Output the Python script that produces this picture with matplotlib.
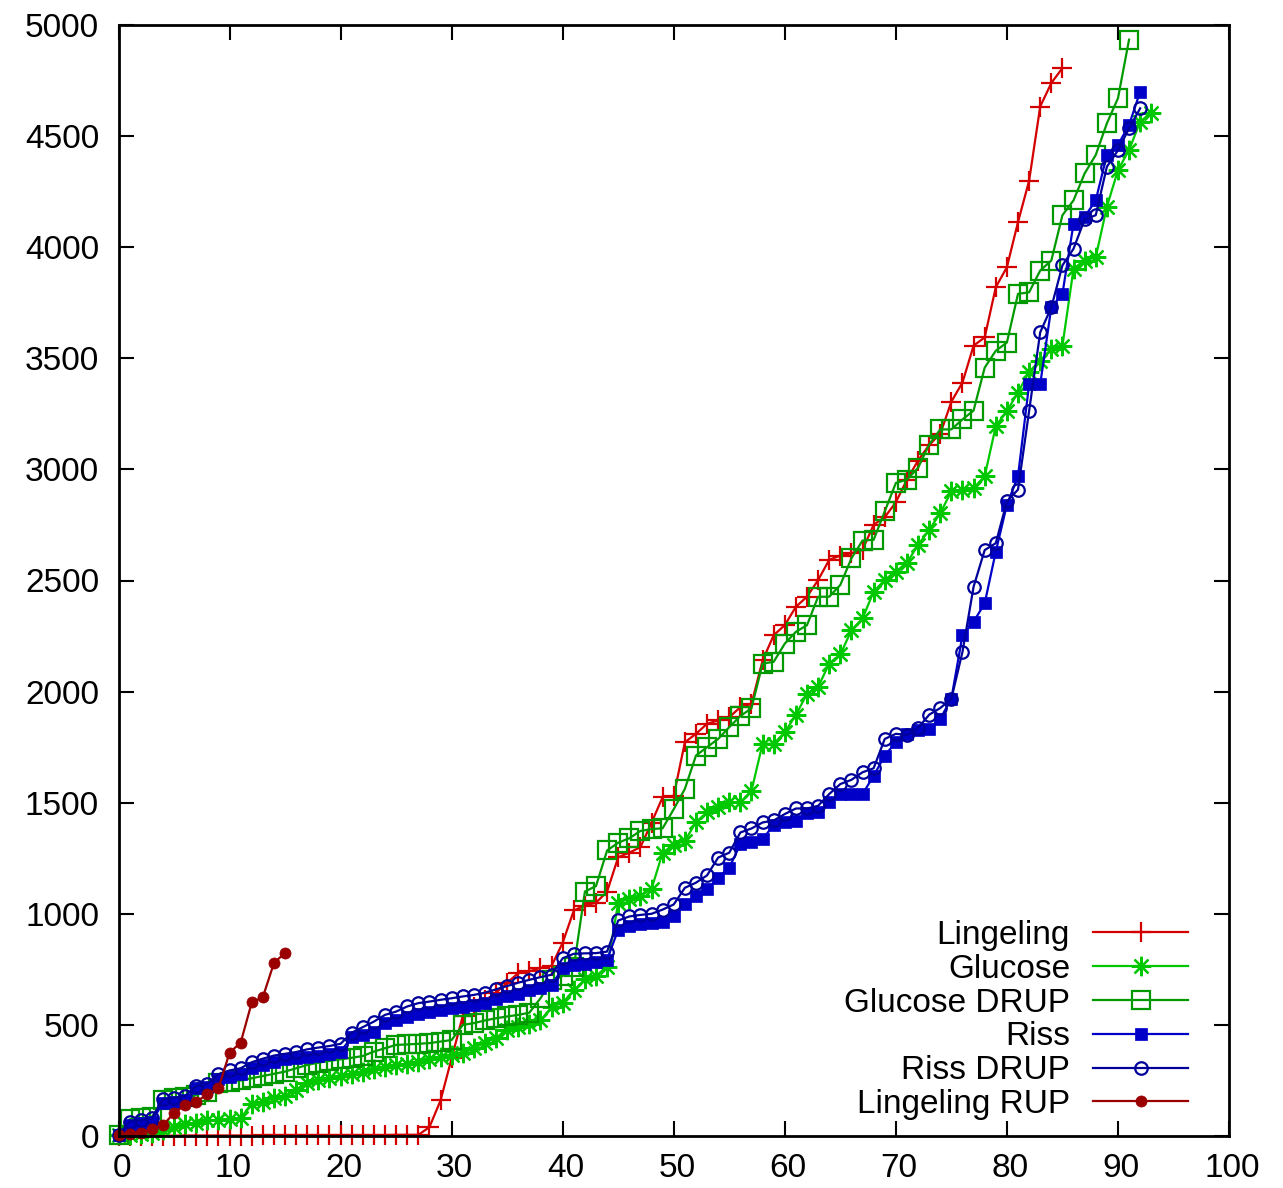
import matplotlib
matplotlib.use("Agg")
import matplotlib.pyplot as plt
from matplotlib.transforms import ScaledTranslation

# Cumulative solving time (s) per number of solved instances
lingeling = [0, 1, 1, 1, 1, 1, 2, 2, 2, 2, 2, 2, 2, 3, 3, 3, 3, 3, 3, 3,
             4, 4, 4, 4, 4, 5, 5, 5, 40, 160, 350, 540, 580, 610, 645, 690,
             733, 741, 757, 766, 870, 1015, 1037, 1050, 1100, 1255, 1275,
             1300, 1410, 1525, 1531, 1772, 1810, 1855, 1870, 1885, 1930,
             1945, 2140, 2254, 2299, 2382, 2427, 2502, 2593, 2612, 2623,
             2638, 2751, 2785, 2852, 2954, 3040, 3110, 3160, 3305, 3391,
             3557, 3594, 3820, 3910, 4113, 4299, 4633, 4739, 4806]

glucose = [3, 5, 10, 15, 25, 40, 55, 60, 70, 72, 75, 80, 146, 155, 169,
           180, 205, 238, 250, 260, 268, 280, 290, 300, 310, 318, 325, 335,
           345, 355, 365, 372, 395, 420, 440, 475, 490, 505, 520, 580, 600,
           655, 705, 720, 760, 1050, 1068, 1080, 1112, 1275, 1310, 1328,
           1412, 1456, 1479, 1501, 1501, 1554, 1765, 1765, 1817, 1895,
           1990, 2021, 2126, 2167, 2276, 2329, 2450, 2502, 2540, 2580, 2660,
           2728, 2803, 2902, 2909, 2916, 2969, 3195, 3263, 3346, 3440, 3489,
           3541, 3556, 3903, 3940, 3955, 4181, 4347, 4437, 4565, 4603]

glucose_drup = [5, 75, 80, 85, 160, 170, 175, 185, 200, 240, 245, 250, 260,
                270, 280, 290, 305, 320, 330, 338, 345, 352, 360, 380, 395,
                410, 412, 415, 418, 425, 432, 500, 508, 520, 530, 538, 545,
                555, 620, 700, 720, 760, 1100, 1125, 1285, 1320, 1340, 1373,
                1381, 1385, 1471, 1562, 1712, 1750, 1787, 1840, 1890, 1925,
                2126, 2134, 2216, 2269, 2299, 2427, 2427, 2480, 2600, 2680,
                2683, 2811, 2939, 2954, 3007, 3112, 3180, 3180, 3225, 3265,
                3458, 3534, 3571, 3790, 3797, 3895, 3940, 4144, 4211, 4332,
                4415, 4557, 4670, 4934]

riss = [5, 50, 58, 65, 150, 155, 160, 215, 222, 255, 265, 280, 305, 318,
        335, 345, 350, 355, 362, 368, 380, 445, 455, 470, 510, 520, 535, 550,
        560, 565, 575, 580, 590, 600, 615, 630, 640, 655, 665, 680, 755, 768,
        775, 782, 794, 929, 944, 955, 960, 965, 989, 1042, 1079, 1110, 1163,
        1208, 1313, 1323, 1336, 1400, 1411, 1418, 1453, 1460, 1501, 1539,
        1539, 1539, 1621, 1712, 1772, 1810, 1825, 1832, 1878, 1968, 2254,
        2314, 2397, 2630, 2841, 2969, 3383, 3383, 3730, 3790, 4106, 4136,
        4211, 4415, 4460, 4550, 4700]

riss_drup = [5, 65, 70, 80, 165, 172, 180, 225, 235, 278, 295, 305, 332, 348,
             362, 370, 378, 390, 398, 405, 415, 465, 490, 515, 545, 560, 583,
             598, 605, 613, 620, 628, 635, 645, 660, 675, 690, 703, 715, 726,
             800, 820, 822, 823, 830, 970, 988, 995, 1000, 1019, 1042, 1117,
             1140, 1173, 1253, 1275, 1366, 1384, 1411, 1420, 1449, 1474, 1474,
             1486, 1539, 1584, 1603, 1637, 1655, 1787, 1810, 1805, 1836, 1896,
             1926, 1968, 2179, 2472, 2637, 2668, 2856, 2909, 3263, 3617, 3729,
             3918, 3993, 4125, 4144, 4362, 4436, 4535, 4625]

lingeling_rup = [3, 8, 14, 33, 48, 104, 139, 154, 188, 214, 375, 420, 601,
                 625, 779, 824]

labels = ["Lingeling", "Glucose", "Glucose DRUP", "Riss", "Riss DRUP",
          "Lingeling RUP"]
x_ticks = list(range(0, 101, 10))
y_ticks = list(range(0, 5001, 500))

plt.rcParams["font.family"] = ["Liberation Sans", "DejaVu Sans"]

fig = plt.figure(figsize=(12.83, 11.88), dpi=100)
ax = fig.add_axes([118.5 / 1283, 1 - 1136 / 1188,
                   (1229 - 118.5) / 1283, (1136 - 25) / 1188])

lw = 1.6
mew = 1.6
asterisk = (8, 2, 0)

def xs(vals):
    return list(range(len(vals)))

h1, = ax.plot(xs(lingeling), lingeling, color="#d40000", lw=lw, marker="+",
              ms=14, mew=mew, clip_on=False)
h2, = ax.plot(xs(glucose), glucose, color="#00c800", lw=lw, marker=asterisk,
              ms=14, mew=mew, clip_on=False)
h3, = ax.plot(xs(glucose_drup), glucose_drup, color="#009a00", lw=lw,
              marker="s", ms=13, mfc="none", mew=mew, clip_on=False)
h4, = ax.plot(xs(riss), riss, color="#0000c8", lw=lw, marker="s", ms=9,
              mew=0.5, clip_on=False)
h5, = ax.plot(xs(riss_drup), riss_drup, color="#00009a", lw=lw, marker="o",
              ms=9, mfc="none", mew=mew, clip_on=False)
h6, = ax.plot(xs(lingeling_rup), lingeling_rup, color="#9a0000", lw=lw,
              marker="o", ms=8, mew=0.5, clip_on=False)

ax.set_xlim(0, 100)
ax.set_ylim(0, 5000)
ax.set_xticks(x_ticks)
ax.set_yticks(y_ticks)
ax.tick_params(direction="in", length=11, width=1.5, top=True, right=True,
               labelsize=24)
ax.tick_params(axis="y", pad=14)
ax.tick_params(axis="x", pad=12)
# nudge the x tick labels slightly to the right
shift = ScaledTranslation(3 / 100, 0, fig.dpi_scale_trans)
for lab in ax.get_xticklabels():
    lab.set_transform(lab.get_transform() + shift)
for s in ax.spines.values():
    s.set_linewidth(2)

leg = ax.legend([h1, h2, h3, h4, h5, h6], labels, loc="lower right",
                bbox_to_anchor=(1188 / 1283, 68 / 1188),
                bbox_transform=fig.transFigure, frameon=False,
                markerfirst=False, fontsize=24, handlelength=2.85,
                handletextpad=0.69, labelspacing=0.085, borderpad=0,
                borderaxespad=0)

fig.savefig("out.png", dpi=100)
